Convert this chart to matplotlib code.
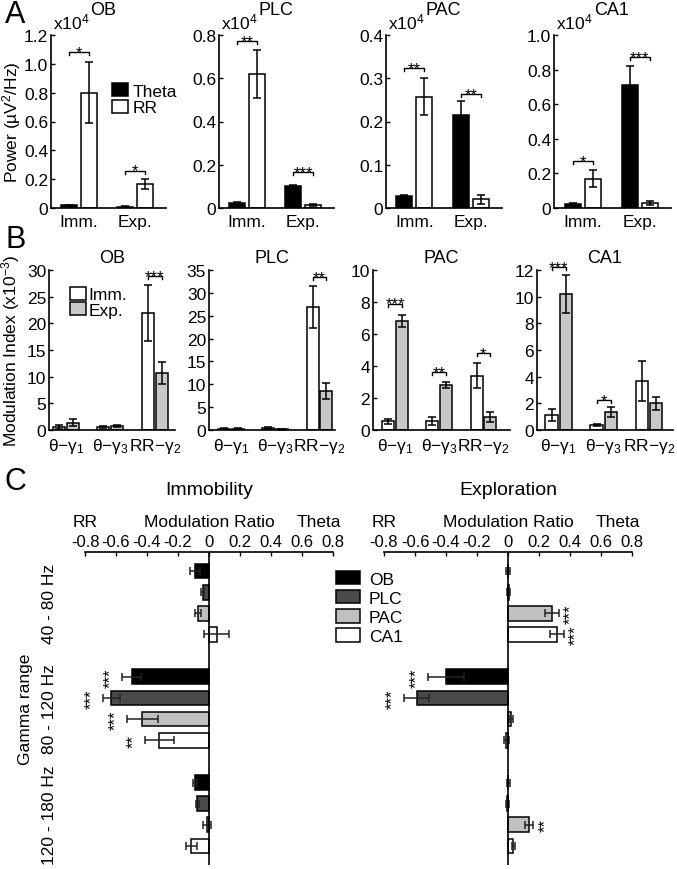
import numpy as np
import matplotlib
matplotlib.use("Agg")
import matplotlib.pyplot as plt
from matplotlib.patches import Patch
import matplotlib.transforms as mtransforms

plt.rcParams["font.family"] = ["Liberation Sans", "DejaVu Sans"]
plt.rcParams["mathtext.fontset"] = "custom"
plt.rcParams["mathtext.rm"] = "Liberation Sans"
plt.rcParams["mathtext.it"] = "Liberation Sans:italic"
plt.rcParams["mathtext.bf"] = "Liberation Sans:bold"
plt.rcParams["axes.linewidth"] = 1.2

# ---------------- data ----------------
regions = ["OB", "PLC", "PAC", "CA1"]

# Panel A: power (x10^4 uV^2/Hz), groups Imm. / Exp.
A_groups = ["Imm.", "Exp."]
A_theta = [[0.02, 0.01], [0.025, 0.10], [0.027, 0.215], [0.025, 0.71]]
A_theta_err = [[0.003, 0.002], [0.003, 0.005], [0.003, 0.033], [0.004, 0.11]]
A_rr = [[0.80, 0.165], [0.62, 0.015], [0.257, 0.02], [0.17, 0.03]]
A_rr_err = [[0.21, 0.035], [0.11, 0.004], [0.043, 0.01], [0.05, 0.01]]
A_ymax = [1.2, 0.8, 0.4, 1.0]
A_ystep = [0.2, 0.2, 0.1, 0.2]
A_sig = [["*", "*"], ["**", "***"], ["**", "**"], ["*", "***"]]
A_sig_y = [[1.08, 0.26], [0.77, 0.165], [0.324, 0.264], [0.27, 0.87]]

# Panel B: modulation index (x10^-3)
B_groups = ["θ−γ$_1$", "θ−γ$_3$", "RR−γ$_2$"]
B_imm = [[0.55, 0.6, 21.9], [0.3, 0.4, 26.9], [0.55, 0.55, 3.4], [1.15, 0.4, 3.7]]
B_imm_err = [[0.45, 0.2, 5.3], [0.1, 0.15, 4.6], [0.15, 0.25, 0.8], [0.45, 0.08, 1.5]]
B_exp = [[1.4, 0.75, 10.7], [0.3, 0.2, 8.5], [6.8, 2.8, 0.8], [10.2, 1.35, 2.0]]
B_exp_err = [[0.7, 0.2, 2.0], [0.1, 0.1, 1.8], [0.38, 0.2, 0.3], [1.45, 0.37, 0.5]]
B_ymax = [30, 35, 10, 12]
B_ystep = [5, 5, 2, 2]
B_sig = [["", "", "***"], ["", "", "**"], ["***", "**", "*"], ["***", "*", ""]]
B_sig_y = [[0, 0, 28.9], [0, 0, 33.4], [7.9, 3.6, 4.8], [12.2, 2.25, 0]]

# Panel C: modulation ratio
C_ranges = ["40 - 80 Hz", "80 - 120 Hz", "120 - 180 Hz"]
C_imm = [[-0.09, -0.04, -0.07, 0.05],
         [-0.50, -0.63, -0.43, -0.32],
         [-0.09, -0.075, -0.015, -0.115]]
C_imm_err = [[0.03, 0.01, 0.02, 0.08],
             [0.06, 0.055, 0.10, 0.095],
             [0.015, 0.01, 0.025, 0.035]]
C_imm_sig = [["", "", "", ""], ["***", "***", "***", "**"], ["", "", "", ""]]
C_exp = [[0.0, 0.005, 0.285, 0.315],
         [-0.40, -0.59, 0.02, -0.01],
         [0.003, -0.005, 0.135, 0.035]]
C_exp_err = [[0.01, 0.01, 0.045, 0.045],
             [0.115, 0.08, 0.015, 0.015],
             [0.01, 0.01, 0.028, 0.01]]
C_exp_sig = [["", "", "***", "***"], ["***", "***", "", ""], ["", "", "**", ""]]
C_colors = ["black", "#4a4a4a", "#c0c0c0", "white"]

W, H = 677, 870
fig = plt.figure(figsize=(W / 100, H / 100), dpi=100)


def px_axes(l, t, r, b):
    return fig.add_axes([l / W, 1 - b / H, (r - l) / W, (b - t) / H])


def bracket(ax, x1, x2, y, drop, text):
    ax.plot([x1, x1, x2, x2], [y - drop, y, y, y - drop], color="k", lw=1, clip_on=False)
    ax.annotate(text, xy=((x1 + x2) / 2, y), xytext=(0, -3.5), textcoords="offset points",
                ha="center", va="baseline", fontsize=12, annotation_clip=False)


def style_vertical(ax, ymax, step, fmt):
    ax.spines["top"].set_visible(False)
    ax.spines["right"].set_visible(False)
    ax.set_ylim(0, ymax)
    ticks = np.arange(0, ymax + step / 2, step)
    ax.set_yticks(ticks)
    ax.set_yticklabels(["0"] + [fmt.format(t) for t in ticks[1:]])
    ax.tick_params(axis="y", direction="in", length=3, width=1, labelsize=12.5, pad=2)
    ax.tick_params(axis="x", length=0, labelsize=12.5, pad=4)


# ---------------- panel A ----------------
A_pos = [(51, 166), (219, 334), (386, 502), (554, 671)]
for i, name in enumerate(regions):
    ax = px_axes(A_pos[i][0], 36, A_pos[i][1], 209)
    x = np.arange(1, 3)
    ekw = dict(ecolor="k", capsize=2.8, elinewidth=1.1, capthick=1.1)
    ax.bar(x - 0.175, A_theta[i], 0.28, color="black", edgecolor="k", lw=1.1,
           yerr=A_theta_err[i], error_kw=ekw, label="Theta")
    ax.bar(x + 0.175, A_rr[i], 0.28, color="white", edgecolor="k", lw=1.1,
           yerr=A_rr_err[i], error_kw=ekw, label="RR")
    ax.set_xlim(0.5, 2.55)
    ax.set_xticks(x)
    ax.set_xticklabels(A_groups)
    style_vertical(ax, A_ymax[i], A_ystep[i], "{:.1f}")
    for g in range(2):
        if A_sig[i][g]:
            bracket(ax, x[g] - 0.175, x[g] + 0.175, A_sig_y[i][g], A_ymax[i] * 3 / 173, A_sig[i][g])
    ax.text(0.02, 1.02, "x10$^4$", transform=ax.transAxes, ha="left", va="bottom", fontsize=12.5)
    ax.text(0.34, 1.15, name, transform=ax.transAxes, ha="left", va="center", fontsize=13)
    if i == 0:
        ax.set_ylabel("Power (µV$^2$/Hz)", fontsize=12.5)
        ax.yaxis.set_label_coords(-0.245, 0.5)
        ax.legend(loc="upper left", bbox_to_anchor=((112 - 51) / 115, 1 - (84 - 36) / 173),
                  frameon=False, fontsize=12.5, handlelength=0.9, handleheight=0.8,
                  handletextpad=0.3, labelspacing=0.05, borderaxespad=0, borderpad=0)

# ---------------- panel B ----------------
B_pos = [(49, 175), (209, 335), (373, 510), (537, 673)]
B_xlim = [(0.62, 3.45), (0.5, 3.35), (0.5, 3.6), (0.52, 3.54)]
for i, name in enumerate(regions):
    ax = px_axes(B_pos[i][0], 271, B_pos[i][1], 431)
    x = np.arange(1, 4)
    ekw = dict(ecolor="k", capsize=2.8, elinewidth=1.1, capthick=1.1)
    ax.bar(x - 0.157, B_imm[i], 0.27, color="white", edgecolor="k", lw=1.1,
           yerr=B_imm_err[i], error_kw=ekw, label="Imm.")
    ax.bar(x + 0.157, B_exp[i], 0.27, color="#c8c8c8", edgecolor="k", lw=1.1,
           yerr=B_exp_err[i], error_kw=ekw, label="Exp.")
    ax.set_xlim(*B_xlim[i])
    ax.set_xticks(x)
    ax.set_xticklabels(B_groups)
    style_vertical(ax, B_ymax[i], B_ystep[i], "{:.0f}")
    for g in range(3):
        if B_sig[i][g]:
            bracket(ax, x[g] - 0.157, x[g] + 0.157, B_sig_y[i][g], B_ymax[i] * 3 / 160, B_sig[i][g])
    ax.set_title(name, fontsize=13, pad=6)
    if i == 0:
        ax.set_ylabel("Modulation Index (x10$^{-3}$)", fontsize=12.5)
        ax.yaxis.set_label_coords(-0.215, 0.5)
        ax.legend(loc="upper left", bbox_to_anchor=((70 - 49) / 126, 1 - (288 - 271) / 160),
                  frameon=False, fontsize=12.5, handlelength=0.9, handleheight=0.75,
                  handletextpad=0.15, labelspacing=0.0, borderaxespad=0, borderpad=0)

# ---------------- panel C ----------------
C_pos = [(85, 333), (384, 632)]
C_titles = ["Immobility", "Exploration"]
C_vals = [C_imm, C_exp]
C_errs = [C_imm_err, C_exp_err]
C_sigs = [C_imm_sig, C_exp_sig]
xt = np.arange(-0.8, 0.81, 0.2)
for k in range(2):
    ax = px_axes(C_pos[k][0], 553, C_pos[k][1], 866)
    for g in range(3):
        for r in range(4):
            y = 5 * g + r
            v = C_vals[k][g][r]
            e = C_errs[k][g][r]
            ax.barh(y, v, height=0.7, color=C_colors[r], edgecolor="k", lw=1.1, xerr=e,
                    error_kw=dict(ecolor="#222222", capsize=2.8, elinewidth=1.1, capthick=1.1),
                    label=regions[r] if g == 0 else None)
            s = C_sigs[k][g][r]
            if s:
                xs = v - e - 0.075 if v < 0 else v + e + 0.075
                ax.text(xs, y, s, rotation=90, ha="center", va="center", fontsize=12,
                        clip_on=False)
    ax.axvline(0, color="k", lw=1.2)
    ax.set_xlim(-0.8, 0.8)
    ax.set_ylim(13.9, -0.9)
    for sp in ["left", "right", "bottom"]:
        ax.spines[sp].set_visible(False)
    ax.xaxis.tick_top()
    ax.set_xticks(xt)
    ax.set_xticklabels(["-0.8", "-0.6", "-0.4", "-0.2", "0", "0.2", "0.4", "0.6", "0.8"])
    ax.tick_params(axis="x", direction="in", length=3, width=1, labelsize=12, pad=2)
    if k == 0:
        ax.set_yticks([1.5, 6.5, 11.5])
        ax.set_yticklabels(C_ranges, rotation=90, va="center")
        ax.tick_params(axis="y", length=0, labelsize=12.5, pad=20)
        ax.set_ylabel("Gamma range", fontsize=12.5)
        ax.yaxis.set_label_coords(-0.21, 0.5)
    else:
        ax.set_yticks([])
    trans = mtransforms.blended_transform_factory(ax.transData, ax.transAxes)
    ax.text(-0.8, 1.099, "RR", transform=trans, ha="center", va="center", fontsize=12.5)
    ax.text(0.0, 1.099, "Modulation Ratio", transform=trans, ha="center", va="center", fontsize=12.5)
    ax.text(0.71, 1.099, "Theta", transform=trans, ha="center", va="center", fontsize=12.5)
    ax.text(0.0, 1.2, C_titles[k], transform=trans, ha="center", va="center", fontsize=14)
    if k == 0:
        handles = [Patch(facecolor=c, edgecolor="k", lw=1.1) for c in C_colors]
        fig.legend(handles, regions, loc="upper left", bbox_to_anchor=(336 / W, 1 - 572 / H),
                   frameon=False, fontsize=12.5, handlelength=1.4, handleheight=0.8,
                   handletextpad=0.5, labelspacing=0.2, borderaxespad=0, borderpad=0)

# panel letters
fig.text(5 / W, 1 - 0 / H, "A", fontsize=22, ha="left", va="top")
fig.text(5 / W, 1 - 225 / H, "B", fontsize=22, ha="left", va="top")
fig.text(5 / W, 1 - 467 / H, "C", fontsize=22, ha="left", va="top")

fig.savefig("out.png", dpi=100)
